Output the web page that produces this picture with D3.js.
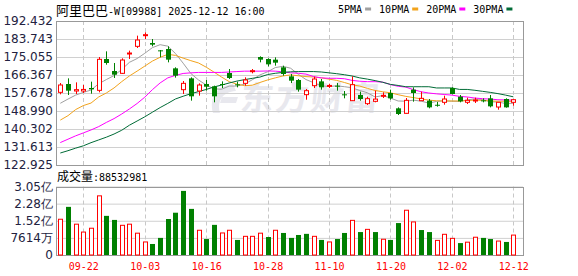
<!DOCTYPE html>
<html>
<head>
<meta charset="utf-8">
<script src="https://cdnjs.cloudflare.com/ajax/libs/d3/7.8.5/d3.min.js"></script>
<style>
body { margin: 0; background: #fff; }
svg { display: block; }
</style>
</head>
<body>
<svg id="chart" width="578" height="276"></svg>
<script>
// trading days, 2025-09-17 .. 2025-12-12
var dates = ['09-17','09-18','09-19','09-22','09-23','09-24','09-25','09-26','09-29','09-30',
    '10-02','10-03','10-06','10-08','10-09','10-10','10-13','10-14','10-15','10-16',
    '10-17','10-20','10-21','10-22','10-23','10-24','10-27','10-28','10-30','10-31',
    '11-03','11-04','11-05','11-06','11-07','11-10','11-11','11-12','11-13','11-14',
    '11-17','11-18','11-19','11-20','11-21','11-24','11-25','11-26','11-27','11-28',
    '12-01','12-02','12-03','12-04','12-05','12-08','12-09','12-10','12-11','12-12']
var tickDates = ['09-22','10-03','10-16','10-28','11-10','11-20','12-02','12-12']

var open = [158.00,162.02,158.64,158.64,160.09,158.96,174.09,168.29,167.17,176.66,
    180.20,185.52,181.81,178.27,178.92,169.58,159.29,164.75,158.64,162.03,
    160.89,162.03,167.33,161.86,162.34,168.12,175.05,174.09,173.77,170.07,
    165.72,163.95,156.88,161.22,163.30,161.02,161.22,157.04,153.98,156.71,
    152.53,153.65,156.23,157.68,150.28,147.86,159.29,153.98,153.98,152.00,
    153.18,160.09,155.90,153.18,153.81,154.14,155.10,150.91,154.78,153.18]
var high = [162.50,164.75,162.82,161.54,163.15,175.05,177.79,172.16,174.42,178.12,
    185.36,186.96,183.74,178.43,180.20,170.07,163.47,165.24,162.34,163.95,
    161.22,163.29,169.26,163.15,165.24,169.26,175.38,174.42,174.89,170.87,
    166.85,164.43,159.61,165.55,164.43,162.14,162.50,158.64,165.72,158.33,
    155.90,158.80,158.00,159.29,150.75,155.26,160.41,158.33,154.78,153.34,
    156.39,160.41,156.71,155.43,155.43,155.10,156.71,153.18,155.10,154.78]
var low = [157.04,156.71,157.19,157.68,157.35,158.00,171.35,164.92,166.85,174.09,
    179.40,183.74,180.20,174.89,172.48,165.08,157.19,153.98,156.39,158.80,
    153.18,160.09,164.43,160.41,161.22,167.17,172.48,170.53,170.87,166.04,
    162.50,158.33,154.45,160.09,159.29,160.11,158.80,155.10,153.81,153.98,
    151.89,153.18,155.26,154.45,147.05,147.70,153.49,153.82,150.28,151.08,
    152.05,157.04,153.18,152.36,152.85,153.18,150.75,149.63,150.59,151.56]
var close = [161.54,158.80,159.29,159.40,159.44,173.93,172.16,166.53,173.60,176.98,
    183.26,185.83,181.01,177.95,173.77,166.04,162.34,156.07,161.54,160.72,
    156.07,161.70,164.92,161.54,163.95,168.45,173.77,171.51,172.32,166.85,
    163.63,159.29,158.80,164.43,160.41,161.33,160.89,156.71,161.70,154.78,
    154.94,154.74,156.55,155.10,147.54,154.14,157.68,155.10,150.75,151.89,
    154.78,157.19,153.65,154.14,154.30,153.65,151.24,153.18,150.75,154.45]
var volume = [159000000,214000000,137000000,102000000,119000000,263000000,174000000,156000000,132000000,137000000,
    97000000,58000000,49000000,76000000,160000000,188000000,285000000,205000000,110000000,71000000,
    134000000,98000000,110000000,67000000,83000000,83000000,97000000,80000000,110000000,98000000,
    76000000,89000000,94000000,83000000,67000000,58000000,71000000,98000000,154000000,102000000,
    114000000,102000000,70000000,67000000,142000000,199000000,147000000,111000000,102000000,65000000,
    92000000,74000000,53000000,57000000,79000000,76000000,71000000,62000000,58000000,88532981]

var ma5 = [152.72,154.74,156.66,157.98,159.10,162.14,164.17,166.09,169.03,172.48,
    174.30,176.84,179.58,181.00,180.29,176.74,172.07,167.11,163.97,161.53,
    159.71,159.50,161.02,161.02,161.94,164.07,166.40,167.92,169.95,170.56,
    169.64,166.70,164.17,162.65,161.12,160.82,161.12,160.72,160.21,158.89,
    157.78,155.75,156.46,155.24,153.82,153.72,154.23,153.72,152.81,153.62,
    153.93,153.72,153.62,154.33,154.84,154.53,153.42,153.32,152.61,152.72]
var ma10 = [144.60,146.73,149.68,151.61,152.82,155.76,157.69,160.12,163.16,165.90,
    168.23,170.65,173.09,174.91,176.33,175.83,174.51,173.29,172.18,170.15,
    167.82,165.39,163.16,161.94,161.23,161.43,162.75,163.97,164.98,165.90,
    166.40,166.00,165.59,165.39,164.98,164.37,163.76,162.75,161.63,161.02,
    159.91,158.89,158.28,157.78,156.86,156.05,155.44,154.84,154.23,153.93,
    153.82,153.82,153.82,154.02,154.23,154.13,153.82,153.72,153.72,153.62]
var ma20 = [133.75,135.37,137.00,138.41,139.84,141.46,143.48,145.31,147.54,149.97,
    152.61,155.65,159.30,162.54,164.98,166.19,167.11,167.41,167.61,167.61,
    167.61,167.61,167.82,168.02,168.22,168.22,168.22,168.32,168.22,167.92,
    167.41,167.21,166.80,165.59,164.98,164.78,164.78,164.57,163.76,163.36,
    163.15,163.15,162.95,161.73,160.92,160.52,159.30,158.28,157.67,157.27,
    156.96,156.66,156.05,155.75,155.24,154.94,154.74,154.43,154.33,154.23]
var ma30 = [128.71,129.83,131.06,132.18,133.70,135.03,136.35,137.87,139.70,142.13,
    144.15,146.18,148.41,150.64,152.66,154.79,156.12,157.33,158.35,159.37,
    160.59,161.50,162.52,163.43,164.14,164.75,165.36,166.58,167.19,167.61,
    167.92,168.02,168.02,168.02,167.82,167.41,167.00,166.50,165.89,164.98,
    164.37,163.66,162.84,161.83,161.32,160.71,160.71,160.71,160.71,160.11,
    160.11,160.11,159.40,159.40,158.99,158.48,157.98,157.37,156.66,155.84]

var priceTicks = [122.925,131.613,140.302,148.990,157.678,166.367,175.055,183.743,192.432]
var volumeTicks = [0,76140000,152280000,228420000,304560000]
var maNames = ['5PMA','10PMA','20PMA','30PMA']

var maColors = ['#a0a0a0','#f2a31c','#ff00ff','#006b36']
var upColor = '#ff0000', downColor = '#008000'
var monoFont = "'DejaVu Sans Mono', monospace"
var cjkFont = "'Noto Sans CJK SC', sans-serif"
var numFont = "'DejaVu Sans', sans-serif"

var left = 56, right = 523
var mainTop = 21, mainBottom = 165
var volTop = 186.5, volBottom = 255

var svg = d3.select('#chart')

var x = d3.scalePoint().domain(dates).range([60.3, 513.3])
var y = d3.scaleLinear().domain([priceTicks[0], priceTicks[priceTicks.length - 1]]).range([mainBottom, mainTop])
var yVol = d3.scaleLinear().domain([0, volumeTicks[volumeTicks.length - 1]]).range([volBottom, volTop])

function px(d) { return Math.round(x(d)) + 0.5 }

// title + legend
var title = svg.append('text').attr('x', 56).attr('y', 15).attr('fill', '#000')
title.append('tspan').attr('font-family', cjkFont).attr('font-size', 13).text('阿里巴巴')
title.append('tspan').attr('font-family', monoFont).attr('font-size', 10).text('-W[09988] 2025-12-12 16:00')

var legendX = 338
maNames.forEach(function (name, i) {
    var t = svg.append('text')
        .attr('x', legendX).attr('y', 13)
        .attr('font-family', monoFont).attr('font-size', 10)
        .attr('fill', '#000')
        .text(name)
    var w = t.node().getComputedTextLength()
    svg.append('rect')
        .attr('x', legendX + w + 3).attr('y', 7.5)
        .attr('width', 6).attr('height', 3)
        .attr('fill', maColors[i])
    legendX += w + 3 + 6 + 8
})

// watermark
var wm = svg.append('g').attr('fill', '#e8e8ee').attr('stroke', 'none')
wm.append('path')
    .attr('d', 'M233,84 C216,86 209,98 213,113 L220,113 C217,101 222,92 236,91 Z M222,97 L238,97 L236,103 L220,103 Z')
wm.append('text')
    .attr('x', 240).attr('y', 110)
    .attr('font-family', cjkFont).attr('font-size', 33).attr('font-weight', 'bold')
    .attr('letter-spacing', 2)
    .attr('transform', 'skewX(-6) translate(11,0)')
    .text('东方财富')

// price grid + labels
var yAxis = d3.axisLeft(y)
    .tickValues(priceTicks)
    .tickFormat(d3.format('.3f'))
    .tickSize(-(right - left))
    .tickPadding(3)
var gy = svg.append('g').attr('transform', 'translate(' + left + ',0)').call(yAxis)
gy.select('.domain').remove()
gy.selectAll('line').attr('stroke', '#d0d0d0')
gy.selectAll('text').attr('font-family', numFont).attr('font-size', 12).attr('fill', '#222240')

// volume grid + labels
function volFormat(v) {
    if (v == 0) return '0'
    if (v < 1e8) return Math.round(v / 1e4) + '万'
    return (v / 1e8).toFixed(2) + '亿'
}
var volAxis = d3.axisLeft(yVol)
    .tickValues(volumeTicks)
    .tickFormat(volFormat)
    .tickSize(-(right - left))
    .tickPadding(3)
var gv = svg.append('g').attr('transform', 'translate(' + left + ',0)').call(volAxis)
gv.select('.domain').remove()
gv.selectAll('line').attr('stroke', '#d0d0d0')
gv.selectAll('text').attr('font-family', numFont).attr('font-size', 12).attr('fill', '#222240')

// dashed verticals
tickDates.forEach(function (d) {
    [[mainTop, mainBottom], [volTop, volBottom]].forEach(function (r) {
        svg.append('line')
            .attr('x1', px(d)).attr('x2', px(d))
            .attr('y1', r[0]).attr('y2', r[1])
            .attr('stroke', '#c8c8c8')
            .attr('stroke-dasharray', '4,3')
    })
})

// panel borders
;[[mainTop, mainBottom], [volTop, volBottom]].forEach(function (r) {
    svg.append('rect')
        .attr('x', left + 0.5).attr('y', Math.round(r[0]) + 0.5)
        .attr('width', right - left).attr('height', Math.round(r[1]) - Math.round(r[0]))
        .attr('fill', 'none').attr('stroke', '#999')
})

// date labels
var xAxis = d3.axisBottom(x).tickValues(tickDates).tickSize(0).tickPadding(8)
var gx = svg.append('g').attr('transform', 'translate(0,' + volBottom + ')').call(xAxis)
gx.select('.domain').remove()
gx.selectAll('text').attr('font-family', monoFont).attr('font-size', 10).attr('fill', '#ff0000')

// moving averages
var maSeries = [ma5, ma10, ma20, ma30]
maSeries.forEach(function (s, k) {
    var line = d3.line()
        .x(function (v, i) { return x(dates[i]) })
        .y(function (v) { return y(v) })
    svg.append('path')
        .attr('d', line(s))
        .attr('fill', 'none')
        .attr('stroke', maColors[k])
        .attr('stroke-width', 1)
})

// candles
var candles = svg.append('g').selectAll('g')
    .data(dates)
    .enter()
    .append('g')
candles.each(function (d, i) {
    var g = d3.select(this)
    var up = close[i] >= open[i]
    var c = up ? upColor : downColor
    var cx = px(d)
    g.append('line')
        .attr('x1', cx).attr('x2', cx)
        .attr('y1', y(high[i])).attr('y2', y(low[i]))
        .attr('stroke', c)
    var top = y(Math.max(open[i], close[i]))
    var h = Math.max(1, Math.abs(y(open[i]) - y(close[i])))
    if (up) {
        g.append('rect')
            .attr('x', cx - 2).attr('y', top)
            .attr('width', 4).attr('height', h)
            .attr('fill', '#fff').attr('stroke', c)
    } else {
        g.append('rect')
            .attr('x', cx - 2.5).attr('y', top)
            .attr('width', 5).attr('height', h)
            .attr('fill', c)
    }
})

// volume bars, coloured against previous close
svg.append('g').selectAll('rect')
    .data(volume)
    .enter()
    .append('rect')
    .attr('x', function (v, i) {
        var up = i == 0 ? close[0] >= open[0] : close[i] >= close[i - 1]
        return up ? px(dates[i]) - 2 : px(dates[i]) - 2.5
    })
    .attr('y', function (v) { return yVol(v) })
    .attr('width', function (v, i) {
        var up = i == 0 ? close[0] >= open[0] : close[i] >= close[i - 1]
        return up ? 4 : 5
    })
    .attr('height', function (v) { return volBottom - yVol(v) })
    .attr('fill', function (v, i) {
        var up = i == 0 ? close[0] >= open[0] : close[i] >= close[i - 1]
        return up ? '#fff' : downColor
    })
    .attr('stroke', function (v, i) {
        var up = i == 0 ? close[0] >= open[0] : close[i] >= close[i - 1]
        return up ? upColor : 'none'
    })

// volume caption
var cap = svg.append('text').attr('x', 57).attr('y', 181).attr('fill', '#000')
cap.append('tspan').attr('font-family', cjkFont).attr('font-size', 12).text('成交量')
cap.append('tspan').attr('font-family', monoFont).attr('font-size', 10).text(':' + volume[volume.length - 1])
</script>
</body>
</html>
